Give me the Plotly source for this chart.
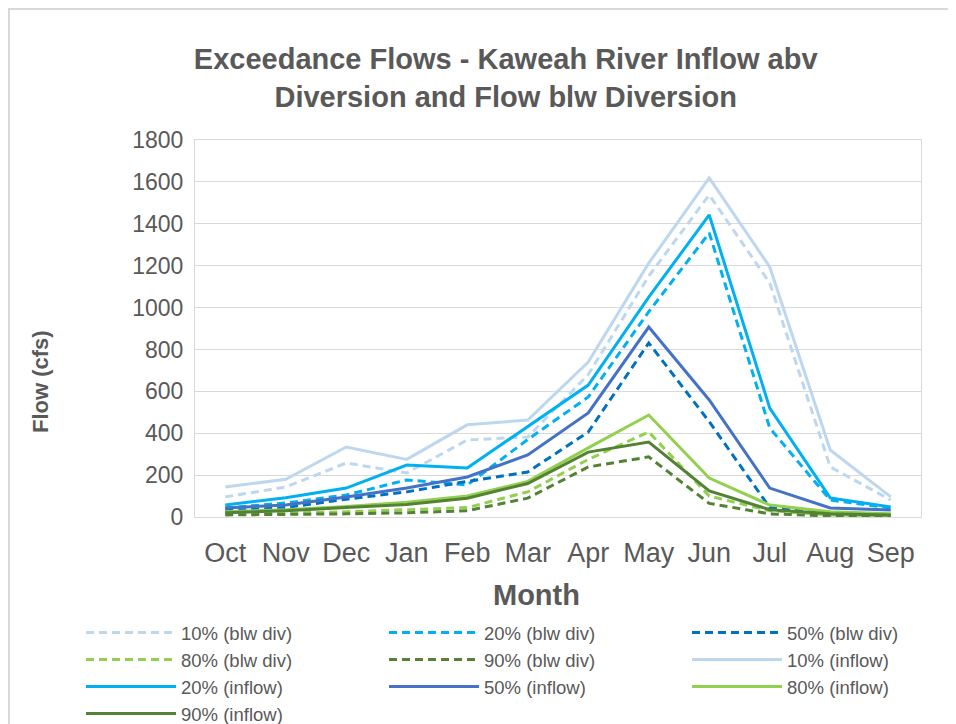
import plotly.graph_objects as go

months = ["Oct", "Nov", "Dec", "Jan", "Feb", "Mar", "Apr", "May", "Jun", "Jul", "Aug", "Sep"]

blw_10 = [96, 143, 258, 210, 368, 382, 680, 1150, 1538, 1117, 239, 81]
blw_20 = [43, 67, 105, 177, 153, 370, 573, 980, 1356, 425, 81, 43]
blw_50 = [30, 45, 85, 120, 170, 215, 406, 831, 455, 45, 15, 10]
blw_80 = [15, 18, 25, 35, 45, 120, 275, 406, 100, 30, 10, 5]
blw_90 = [10, 12, 15, 20, 30, 90, 239, 287, 65, 15, 5, 3]
inf_10 = [143, 180, 334, 275, 440, 463, 740, 1212, 1619, 1194, 320, 96]
inf_20 = [57, 92, 138, 248, 234, 430, 630, 1050, 1442, 520, 91, 48]
inf_50 = [43, 57, 96, 138, 191, 296, 497, 907, 559, 138, 43, 33]
inf_80 = [25, 35, 50, 70, 100, 170, 330, 487, 186, 57, 25, 15]
inf_90 = [20, 30, 45, 60, 90, 160, 310, 358, 125, 35, 15, 10]

series = [
    ("10% (blw div)", blw_10, "#BDD7EE", "dash"),
    ("20% (blw div)", blw_20, "#00B0F0", "dash"),
    ("50% (blw div)", blw_50, "#0070C0", "dash"),
    ("80% (blw div)", blw_80, "#92D050", "dash"),
    ("90% (blw div)", blw_90, "#548235", "dash"),
    ("10% (inflow)", inf_10, "#BDD7EE", "solid"),
    ("20% (inflow)", inf_20, "#00B0F0", "solid"),
    ("50% (inflow)", inf_50, "#4472C4", "solid"),
    ("80% (inflow)", inf_80, "#92D050", "solid"),
    ("90% (inflow)", inf_90, "#548235", "solid"),
]

fig = go.Figure()
for name, vals, col, dash in series:
    fig.add_trace(go.Scatter(
        x=months, y=vals, name=name, mode="lines",
        line=dict(color=col, width=3, dash="8px,5px" if dash == "dash" else "solid"),
    ))

grey = "#595959"
# page has an 8px body margin, so the figure is 8px smaller than the window
fig.update_layout(
    width=948, height=716,
    margin=dict(l=187, r=35, t=132, b=207, autoexpand=False),
    paper_bgcolor="white", plot_bgcolor="white",
    font=dict(family="Liberation Sans, Arial", color=grey),
    title=dict(
        text="<b>Exceedance Flows - Kaweah River Inflow abv<br>Diversion and Flow blw Diversion</b>",
        x=0.525, xanchor="center", y=0.915, yanchor="middle",
        font=dict(size=29, color=grey),
    ),
    legend=dict(
        orientation="h", x=-0.157, xanchor="left", y=-0.257, yanchor="top",
        entrywidth=198, entrywidthmode="pixels",
        font=dict(size=18.5, color=grey), tracegroupgap=0, itemwidth=90,
    ),
    showlegend=True,
)
fig.update_xaxes(
    tickfont=dict(size=27, color=grey), ticklabelstandoff=12,
    showline=True, linecolor="#D9D9D9", mirror=True, showgrid=False,
    ticks="", range=[-0.5, 11.5],
)
fig.update_yaxes(
    tickfont=dict(size=23, color=grey), ticklabelstandoff=6,
    range=[0, 1800], dtick=200,
    showline=True, linecolor="#D9D9D9", mirror=True,
    gridcolor="#D9D9D9", gridwidth=1, zeroline=False, ticks="",
)
# axis titles sit off-centre in the original, so place them as annotations
fig.add_annotation(
    text="<b>Month</b>", xref="paper", yref="paper", x=0.471, y=-0.207,
    xanchor="center", yanchor="middle",
    showarrow=False, font=dict(size=29, color=grey),
)
fig.add_annotation(
    text="<b>Flow (cfs)</b>", xref="paper", yref="paper", x=-0.2135, y=0.3607,
    xanchor="center", yanchor="middle",
    textangle=-90, showarrow=False, font=dict(size=22, color=grey),
)
fig.add_shape(
    type="rect", xref="paper", yref="paper",
    x0=-0.2562, x1=1.0468, y0=-0.6, y1=1.3475,
    line=dict(color="#D9D9D9", width=2), layer="below",
)
fig.write_html("out.html")
